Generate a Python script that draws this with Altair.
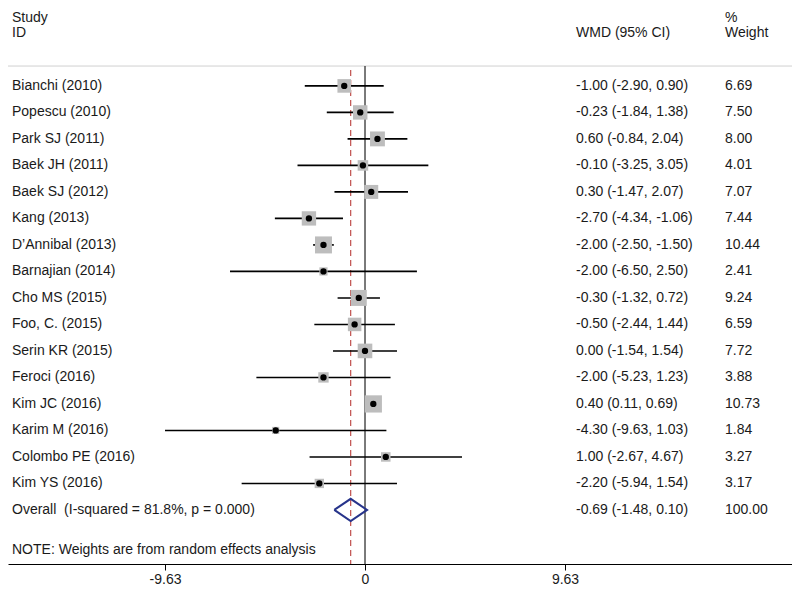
import altair as alt
import pandas as pd

studies = ["Bianchi (2010)", "Popescu (2010)", "Park SJ (2011)", "Baek JH (2011)",
           "Baek SJ (2012)", "Kang (2013)", "D\u2019Annibal (2013)", "Barnajian (2014)",
           "Cho MS (2015)", "Foo, C. (2015)", "Serin KR (2015)", "Feroci (2016)",
           "Kim JC (2016)", "Karim M (2016)", "Colombo PE (2016)", "Kim YS (2016)"]
wmd = [-1.00, -0.23, 0.60, -0.10, 0.30, -2.70, -2.00, -2.00, -0.30, -0.50, 0.00, -2.00,
       0.40, -4.30, 1.00, -2.20]
ci_lo = [-2.90, -1.84, -0.84, -3.25, -1.47, -4.34, -2.50, -6.50, -1.32, -2.44, -1.54,
         -5.23, 0.11, -9.63, -2.67, -5.94]
ci_hi = [0.90, 1.38, 2.04, 3.05, 2.07, -1.06, -1.50, 2.50, 0.72, 1.44, 1.54, 1.23,
         0.69, 1.03, 4.67, 1.54]
weights = [6.69, 7.50, 8.00, 4.01, 7.07, 7.44, 10.44, 2.41, 9.24, 6.59, 7.72, 3.88,
           10.73, 1.84, 3.27, 3.17]

overall_label = "Overall\u00a0 (I-squared = 81.8%, p = 0.000)"
overall_est, overall_lo, overall_hi, overall_w = -0.69, -1.48, 0.10, 100.00
note = "NOTE: Weights are from random effects analysis"
tick_values = [-9.63, 0, 9.63]

FONT = "Liberation Sans"
FS = 14
TXT = "#1a1a1a"
W, H = 784, 556
Y_TOP, Y_BOT = -2.94, 18.04
n = len(studies)


def fmt(v):
    return f"{v:.2f}"


df = pd.DataFrame({
    "study": studies, "wmd": wmd, "lo": ci_lo, "hi": ci_hi, "w": weights,
    "row": list(range(n)),
})
df["ci"] = [f"{fmt(e)} ({fmt(l)}, {fmt(h)})" for e, l, h in zip(wmd, ci_lo, ci_hi)]
df["wt"] = [fmt(w) for w in weights]

ov_row = n
note_row = n + 1.5
head1_row, head2_row = -2.58, -1.98

xs = alt.Scale(domain=[-17.19, 20.56], nice=False, zero=False)
ys = alt.Scale(domain=[Y_TOP, Y_BOT], reverse=True, nice=False, zero=False)
xaxis = alt.Axis(
    values=tick_values, title=None, grid=False, tickSize=6, labelPadding=2,
    labelExpr="datum.value == 0 ? '0' : (datum.value < 0 ? '-' : '') + format(abs(datum.value), '.2f')",
    domainColor="black", tickColor="black", labelColor=TXT, labelFont=FONT,
    labelFontSize=FS, domainWidth=1, tickWidth=1,
)


def X(f):
    return alt.X(f, type="quantitative", scale=xs, axis=xaxis)


def Y(f):
    return alt.Y(f, type="quantitative", scale=ys, axis=None)


base = alt.Chart(df)

ci_rules = base.mark_rule(color="black", strokeWidth=1.6).encode(
    x=X("lo"), x2="hi", y=Y("row"))
boxes = base.mark_square(color="#bdbdbd", opacity=1).encode(
    x=X("wmd"), y=Y("row"),
    size=alt.Size("w:Q", scale=alt.Scale(domain=[0, 12], range=[0, 332]), legend=None))
dots = base.mark_circle(color="black", size=40, opacity=1).encode(x=X("wmd"), y=Y("row"))

vlines = pd.DataFrame({"x": [0], "y1": [-0.75], "y2": [Y_BOT]})
zero_line = alt.Chart(vlines).mark_rule(color="#222222", strokeWidth=1.2).encode(
    x=X("x"), y=Y("y1"), y2="y2")
ovl = pd.DataFrame({"x": [overall_est], "y1": [-0.6], "y2": [Y_BOT]})
est_line = alt.Chart(ovl).mark_rule(color="#c0504d", strokeWidth=1.2,
                                    strokeDash=[6, 4]).encode(x=X("x"), y=Y("y1"), y2="y2")

sep = alt.Chart(pd.DataFrame({"y": [-0.75]})).mark_rule(color="#d0d0d0", strokeWidth=1).encode(
    y=Y("y"), x=alt.value(0), x2=alt.value(W))

dh = 0.42
diamond = pd.DataFrame({
    "x": [overall_lo, overall_est, overall_hi, overall_est, overall_lo],
    "y": [ov_row, ov_row - dh, ov_row, ov_row + dh, ov_row],
    "o": [0, 1, 2, 3, 4],
})
dia = alt.Chart(diamond).mark_line(color="#27348b", strokeWidth=2).encode(
    x=X("x"), y=Y("y"), order="o:Q")


def text_layer(data, field, xpx):
    return alt.Chart(data).mark_text(
        align="left", baseline="middle", font=FONT, fontSize=FS, color=TXT
    ).encode(x=alt.value(xpx), y=Y("row"), text=f"{field}:N")


headers_left = pd.DataFrame({"t": ["Study", "ID"], "row": [head1_row, head2_row]})
headers_ci = pd.DataFrame({"t": ["WMD (95% CI)"], "row": [head2_row]})
headers_w = pd.DataFrame({"t": ["%", "Weight"], "row": [head1_row, head2_row]})
left_extra = pd.DataFrame({"t": [overall_label, note], "row": [ov_row, note_row]})
ci_extra = pd.DataFrame({"t": [f"{fmt(overall_est)} ({fmt(overall_lo)}, {fmt(overall_hi)})"],
                         "row": [ov_row]})
w_extra = pd.DataFrame({"t": [fmt(overall_w)], "row": [ov_row]})

texts = [
    text_layer(df, "study", 4),
    text_layer(df, "ci", 568),
    text_layer(df, "wt", 717),
    text_layer(headers_left, "t", 4),
    text_layer(headers_ci, "t", 568),
    text_layer(headers_w, "t", 717),
    text_layer(left_extra, "t", 4),
    text_layer(ci_extra, "t", 568),
    text_layer(w_extra, "t", 717),
]

chart = alt.layer(
    sep, est_line, zero_line, ci_rules, boxes, dots, dia, *texts
).properties(
    width=W, height=H,
    autosize=alt.AutoSizeParams(type="none"),
    padding={"left": 0, "right": 0, "top": 0, "bottom": 22},
    background="white",
).configure_view(stroke=None)

chart.save("out.html", embed_options={"renderer": "svg", "actions": False})
